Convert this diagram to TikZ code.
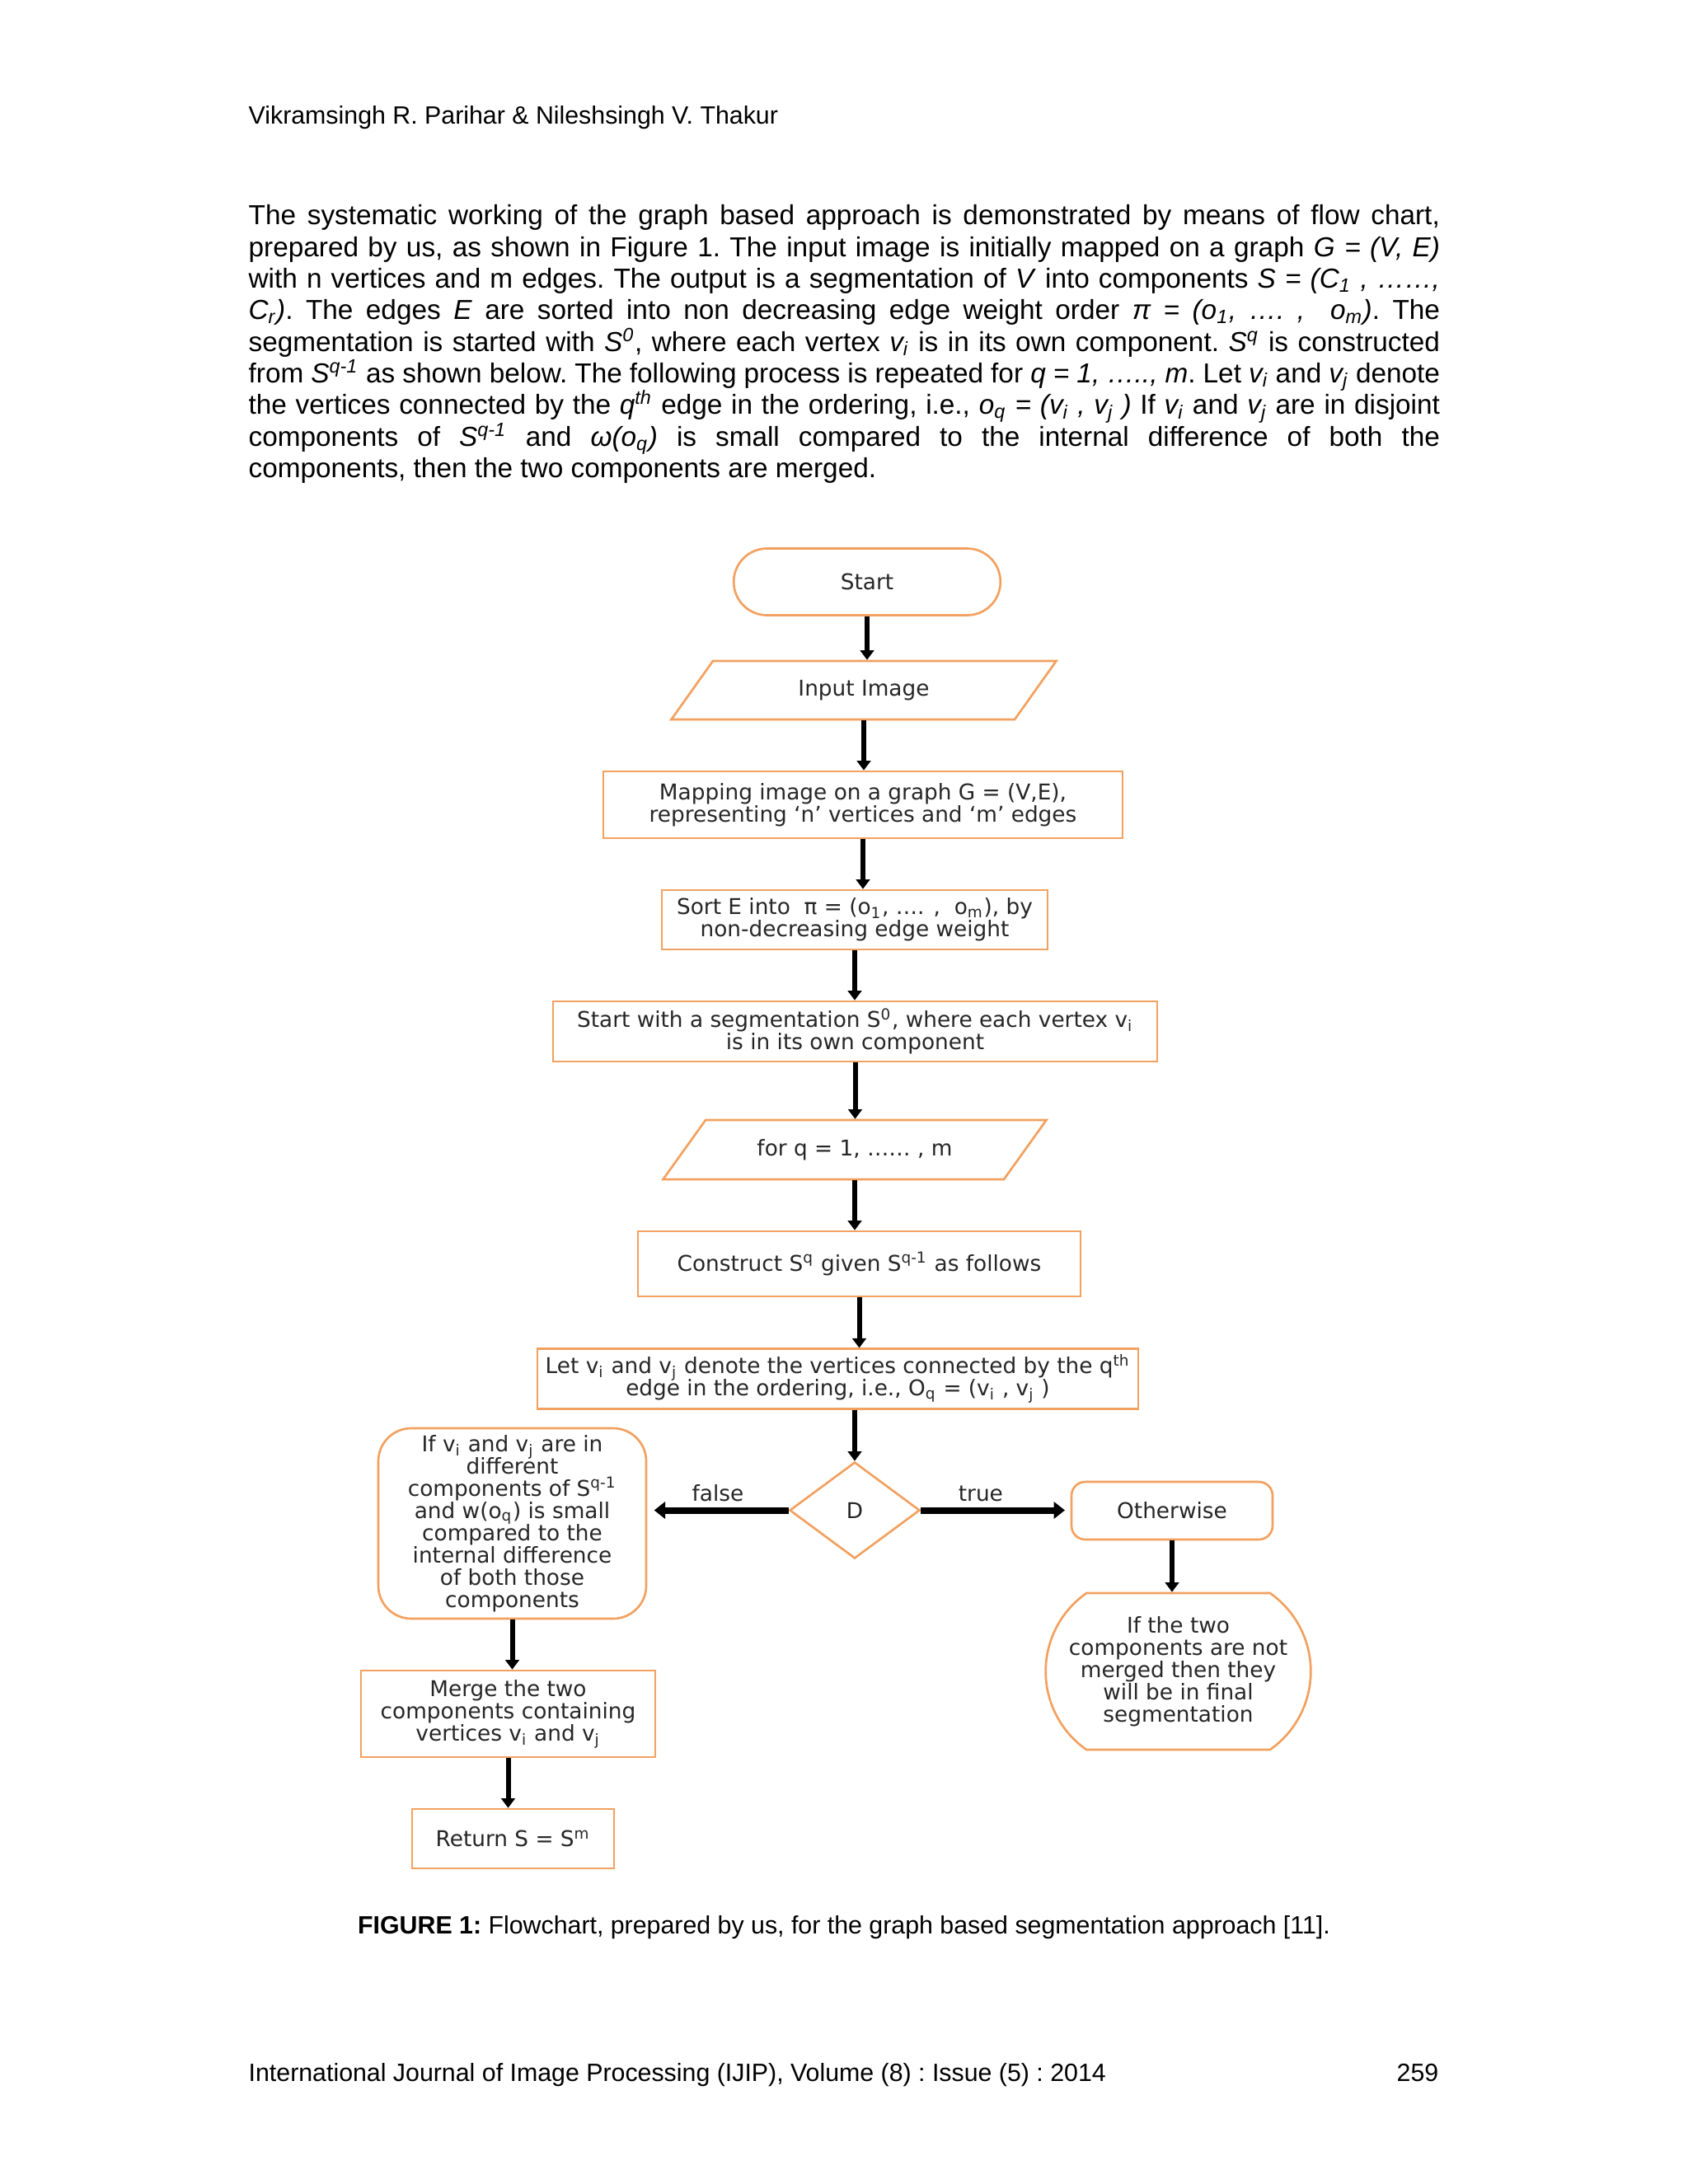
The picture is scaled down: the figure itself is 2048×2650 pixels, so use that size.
\documentclass[tikz,border=0pt]{standalone}
\usepackage{fontspec}
\setmainfont{Liberation Sans}
\newfontfamily\chartfont{DejaVu Sans}
\usetikzlibrary{arrows.meta,positioning,shapes.geometric,shapes.misc,calc}
\definecolor{boxorange}{HTML}{F2A160}
\definecolor{chartgrey}{HTML}{262626}

\begin{document}
\begin{tikzpicture}[x=0.3pt,y=-0.3pt,
  font={\chartfont\fontsize{7.9}{8.1}\selectfont\setlength{\lineskiplimit}{-10pt}},
  fc/.style={draw=boxorange,line width=0.8pt,fill=white,text=chartgrey,align=center,inner sep=2pt},
  proc/.style={fc,rectangle},
  term/.style={fc,rounded rectangle},
  io/.style={fc,trapezium,trapezium left angle=37,trapezium right angle=143,trapezium stretches body},
  dec/.style={fc,diamond,inner sep=0pt},
  soft/.style={fc,rounded corners=#1},
  arr/.style={line width=1.8pt,-{Triangle[length=3.5pt,width=5pt]}},
  arrw/.style={line width=2.4pt,-{Triangle[length=4pt,width=6pt]}},
  lbl/.style={text=chartgrey,inner sep=2pt},
  page/.style={font={\normalfont\fontsize{9.1}{11.5}\selectfont\frenchspacing},inner sep=0pt},
  body/.style={font={\normalfont\fontsize{10}{11.5}\selectfont\frenchspacing\setlength{\lineskiplimit}{-10pt}},inner sep=0pt}]
\fill[white] (0,0) rectangle (2048,2650);
\useasboundingbox (0,0) rectangle (2048,2650);

% running head and text
\node[page,anchor=base west] (head) at (301,150) {Vikramsingh R. Parihar \& Nileshsingh V. Thakur};
\node[body,anchor=north west,text width=433.6pt,align=justify] (para) at (301,248) {%
The systematic working of the graph based approach is demonstrated by means of flow chart,\linebreak
prepared by us, as shown in Figure 1. The input image is initially mapped on a graph \textit{G = (V, E)}\linebreak
with n vertices and m edges. The output is a segmentation of \textit{V} into components \textit{S = (C\textsubscript{1} , \dots\dots,}\linebreak
\textit{C\textsubscript{r})}. The edges \textit{E} are sorted into non decreasing edge weight order \textit{π = (o\textsubscript{1}, …. ,\ \ o\textsubscript{m})}. The\linebreak
segmentation is started with \textit{S\textsuperscript{0}}, where each vertex \textit{v\textsubscript{i}} is in its own component. \textit{S\textsuperscript{q}} is constructed\linebreak
from \textit{S\textsuperscript{q-1}} as shown below. The following process is repeated for \textit{q = 1, ….., m}. Let \textit{v\textsubscript{i}} and \textit{v\textsubscript{j}} denote\linebreak
the vertices connected by the \textit{q\textsuperscript{th}} edge in the ordering, i.e., \textit{o\textsubscript{q} = (v\textsubscript{i} , v\textsubscript{j} )} If \textit{v\textsubscript{i}} and \textit{v\textsubscript{j}} are in disjoint\linebreak
components of \textit{S\textsuperscript{q-1}} and \textit{ω(o\textsubscript{q})} is small compared to the internal difference of both the\linebreak
components, then the two components are merged.};

% main column
\node[term,minimum width=101.1pt,minimum height=24.3pt] (start) at (1052,706) {Start};
\node[io,minimum width=140.1pt,minimum height=21.3pt] (input) at (1048,837.5) {Input Image};
\node[proc,minimum width=189pt,minimum height=24.3pt] (map) at (1047,976.5) {Mapping image on a graph G = (V,E),\\representing ‘n’ vertices and ‘m’ edges};
\node[proc,minimum width=140.4pt,minimum height=21.6pt] (sort) at (1037,1116) {Sort E into\ \ π = (o\textsubscript{1}, …. ,\ \ o\textsubscript{m}), by\\non-decreasing edge weight};
\node[proc,minimum width=219.9pt,minimum height=21.9pt] (seg) at (1037.5,1251.5) {Start with a segmentation S\textsuperscript{0}, where each vertex v\textsubscript{i}\\is in its own component};
\node[io,minimum width=139.5pt,minimum height=21.6pt] (loop) at (1037,1395) {for q = 1, …… , m};
\node[proc,minimum width=161.1pt,minimum height=23.7pt] (build) at (1042.5,1533.5) {Construct S\textsuperscript{q} given S\textsuperscript{q-1} as follows};
\node[proc,minimum width=218.7pt,minimum height=21.6pt] (edge) at (1016.5,1673) {Let v\textsubscript{i} and v\textsubscript{j} denote the vertices connected by the q\textsuperscript{th}\\edge in the ordering, i.e., O\textsubscript{q} = (v\textsubscript{i} , v\textsubscript{j} )};
\node[dec,minimum width=47.4pt,minimum height=35.1pt] (test) at (1037,1832.5) {D};

% branches
\node[soft=12pt,minimum width=97.5pt,minimum height=69.3pt] (join) at (621.5,1848.5) {If v\textsubscript{i} and v\textsubscript{j} are in\\different\\components of S\textsuperscript{q-1}\\and w(o\textsubscript{q}) is small\\compared to the\\internal difference\\of both those\\components};
\node[soft=5pt,minimum width=73.2pt,minimum height=21pt] (other) at (1422,1833) {Otherwise};
\node[term,rounded rectangle arc length=110,minimum width=100.5pt,minimum height=57pt] (keep) at (1429.5,2028) {If the two\\components are not\\merged then they\\will be in final\\segmentation};
\node[proc,minimum width=107.1pt,minimum height=31.5pt] (merge) at (616.5,2079.5) {Merge the two\\components containing\\vertices v\textsubscript{i} and v\textsubscript{j}};
\node[proc,minimum width=73.5pt,minimum height=21.6pt] (ret) at (622.5,2231) {Return S = S\textsuperscript{m}};

\draw[arr] (start.south) -- (start.south |- input.north);
\draw[arr] (input.south) -- (input.south |- map.north);
\draw[arr] (map.south) -- (map.south |- sort.north);
\draw[arr] (sort.south) -- (sort.south |- seg.north);
\draw[arr] (seg.south) -- (seg.south |- loop.north);
\draw[arr] (loop.south) -- (loop.south |- build.north);
\draw[arr] (build.south) -- (build.south |- edge.north);
\draw[arr] (test.north |- edge.south) -- (test.north);
\draw[arrw,shorten >=2.5pt] (test.west) -- (test.west -| join.east) node[midway,above,lbl]{false};
\draw[arrw,shorten >=2pt] (test.east) -- (test.east -| other.west) node[pos=0.4,above,lbl]{true};
\draw[arr] (other.south) -- (other.south |- keep.north);
\draw[arr] (join.south) -- (join.south |- merge.north);
\draw[arr] (merge.south) -- (merge.south |- ret.north);

% caption and foot
\node[page,anchor=base] (cap) at (1024,2346) {\textbf{FIGURE 1:} Flowchart, prepared by us, for the graph based segmentation approach [11].};
\node[page,anchor=base west] (foot) at (301,2525) {International Journal of Image Processing (IJIP), Volume (8) : Issue (5) : 2014};
\node[page,anchor=base east] (pnum) at (1746,2525) {259};
\end{tikzpicture}
\end{document}
